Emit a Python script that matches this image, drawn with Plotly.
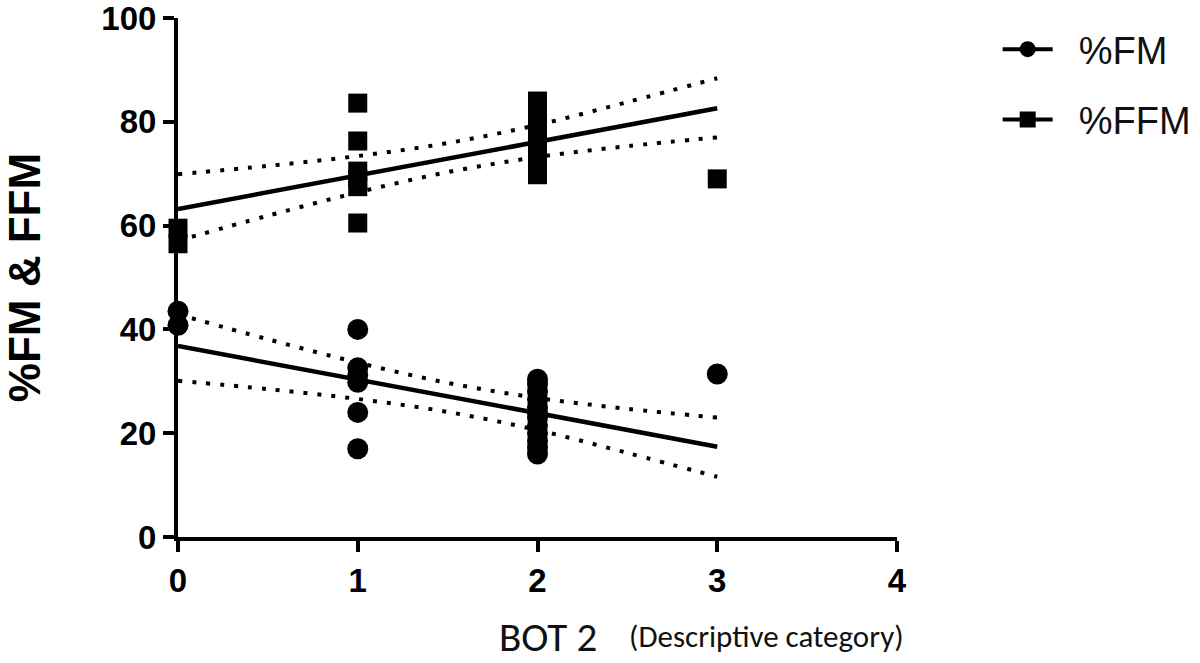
import plotly.graph_objects as go

# ---- data ----
ffm_x = [0, 0,
         1, 1, 1, 1, 1, 1,
         2, 2, 2, 2, 2, 2, 2, 2, 2, 2, 2, 2,
         3]
ffm_y = [59.5, 56.5,
         83.6, 76.3, 70.5, 69.0, 67.5, 60.5,
         84.0, 82.8, 81.5, 80.0, 78.5, 77.0, 76.0, 75.0, 73.5, 72.0, 70.5, 69.8,
         69.0]
fm_x = ffm_x
fm_y = [43.5, 40.8,
        17.0, 24.0, 29.8, 31.2, 32.6, 40.0,
        16.0, 17.2, 18.5, 20.0, 21.5, 23.0, 24.0, 25.0, 26.5, 28.0, 29.5, 30.4,
        31.4]

fit_x = [0, 3]
ffm_fit = [63.2, 82.6]
fm_fit = [36.8, 17.4]

band_x = [0, 0.5, 1, 1.5, 2, 2.5, 3]
ffm_upper = [69.9, 71.5, 73.4, 75.9, 79.4, 83.8, 88.4]
ffm_lower = [57.1, 61.9, 66.4, 70.3, 73.2, 75.3, 77.0]
fm_upper = [42.9, 38.1, 33.6, 29.7, 26.8, 24.7, 23.0]
fm_lower = [30.1, 28.5, 26.6, 24.1, 20.6, 16.2, 11.6]

x_ticks = [0, 1, 2, 3, 4]
y_ticks = [0, 20, 40, 60, 80, 100]

BLACK = "#000000"
ARIAL = "Liberation Sans, Arial, sans-serif"
CALIBRI = "Carlito, Calibri, Liberation Sans Narrow, sans-serif"
TICK_FONT = dict(family=ARIAL, size=33, color=BLACK, weight="bold")

fig = go.Figure()

dotted = dict(color=BLACK, width=4, dash="4px,10px")
for ys in (ffm_upper, ffm_lower, fm_upper, fm_lower):
    fig.add_trace(go.Scatter(x=band_x, y=ys, mode="lines", line=dotted,
                             line_shape="spline", showlegend=False, hoverinfo="skip"))

fig.add_trace(go.Scatter(x=fit_x, y=ffm_fit, mode="lines",
                         line=dict(color=BLACK, width=4.5), showlegend=False))
fig.add_trace(go.Scatter(x=fit_x, y=fm_fit, mode="lines",
                         line=dict(color=BLACK, width=4.5), showlegend=False))

fig.add_trace(go.Scatter(x=fm_x, y=fm_y, mode="markers", cliponaxis=False,
                         marker=dict(symbol="circle", size=21, color=BLACK),
                         showlegend=False))
fig.add_trace(go.Scatter(x=ffm_x, y=ffm_y, mode="markers", cliponaxis=False,
                         marker=dict(symbol="square", size=19, color=BLACK),
                         showlegend=False))

# legend entries
fig.add_trace(go.Scatter(x=[None], y=[None], mode="lines+markers",
                         name="&nbsp;&nbsp;%FM", legendgroup="a",
                         line=dict(color=BLACK, width=4),
                         marker=dict(symbol="circle", size=22, color=BLACK)))
fig.add_trace(go.Scatter(x=[None], y=[None], mode="lines+markers",
                         name="&nbsp;&nbsp;%FFM", legendgroup="b",
                         line=dict(color=BLACK, width=4),
                         marker=dict(symbol="square", size=19, color=BLACK)))

fig.update_layout(
    width=1200, height=663,
    margin=dict(l=178, r=303, t=18, b=126, autoexpand=False),
    paper_bgcolor="white", plot_bgcolor="white",
    showlegend=True,
    legend=dict(x=1.14, y=1.0, xanchor="left", yanchor="top",
                font=dict(family=ARIAL, size=38, color="#111111"),
                tracegroupgap=18, itemwidth=50, bgcolor="rgba(0,0,0,0)"),
    xaxis=dict(range=[0, 4], tickvals=x_ticks, ticktext=[str(v) for v in x_ticks],
               showgrid=False, zeroline=False, showline=True, linecolor=BLACK,
               linewidth=4, ticks="outside", ticklen=11, tickwidth=4,
               tickcolor=BLACK, tickfont=TICK_FONT, automargin=False,
               ticklabeloverflow="allow"),
    yaxis=dict(range=[0, 100], tickvals=y_ticks, ticktext=[str(v) for v in y_ticks],
               showgrid=False, zeroline=False, showline=True, linecolor=BLACK,
               linewidth=4, ticks="outside", ticklen=11, tickwidth=4,
               tickcolor=BLACK, tickfont=TICK_FONT, automargin=False,
               ticklabeloverflow="allow",
               title=dict(text="<b>%FM & FFM</b>", standoff=62,
                          font=dict(family=ARIAL, size=44, color=BLACK))),
    annotations=[
        dict(text="BOT 2", xref="paper", yref="paper", x=0.443, y=-0.192,
             xanchor="left", yanchor="middle", showarrow=False,
             font=dict(family=CALIBRI, size=41, color="#111111")),
        dict(text="(Descriptive category)", xref="paper", yref="paper", x=1.012, y=-0.19,
             xanchor="right", yanchor="middle", showarrow=False,
             font=dict(family=CALIBRI, size=31, color="#111111")),
    ],
)

fig.write_html("out.html")
